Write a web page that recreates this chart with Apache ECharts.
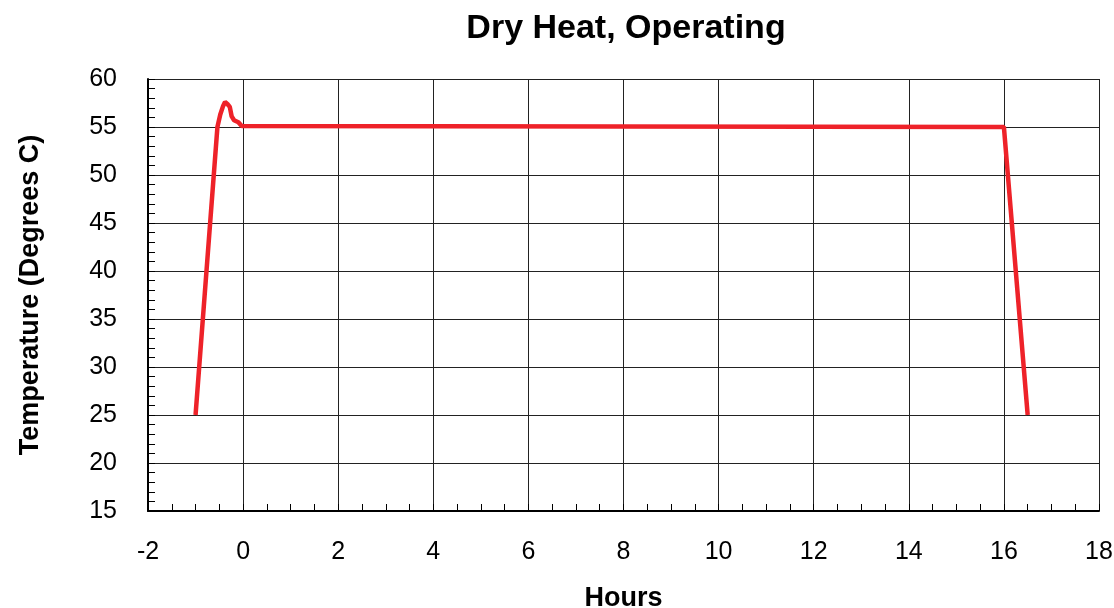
<!DOCTYPE html>
<html>
<head>
<meta charset="utf-8">
<script src="https://cdn.jsdelivr.net/npm/echarts@6/dist/echarts.min.js"></script>
<style>
    html, body { margin: 0; padding: 0; background: #fff; }
    #main { width: 1114px; height: 608px; }
</style>
</head>
<body>
<div id="main"></div>
<script>
// temperature profile
var hours = [-1, -0.54, -0.48, -0.42, -0.38, -0.33, -0.28, -0.24, -0.19, -0.1, -0.03, 0, 16, 16.5];
var temps = [25, 55, 56.3, 57.2, 57.6, 57.4, 57.1, 56.1, 55.7, 55.5, 55.1, 55, 55, 25];

function getPairs(xs, ys) {
    var arr = [];
    for (var i = 0; i < xs.length; i++) {
        arr.push([xs[i], ys[i]]);
    }
    return arr;
}

lineTable('main');

function lineTable(id) {
    var myChart = echarts.init(document.getElementById(id));
    var font = 'Liberation Sans, Arial, sans-serif';

    option = {
        animation: false,
        title: {
            text: 'Dry Heat, Operating',
            left: 621,
            textAlign: 'center',
            top: 7,
            textStyle: { fontFamily: font, fontSize: 34, fontWeight: 'bold', color: '#000' }
        },
        grid: {
            left: 148,
            right: 15,
            top: 79,
            bottom: 97,
            outerBoundsMode: 'none',
            containLabel: false
        },
        xAxis: {
            type: 'value',
            min: -2,
            max: 18,
            interval: 2,
            name: 'Hours',
            nameLocation: 'middle',
            nameGap: 74,
            nameTextStyle: { fontFamily: font, fontSize: 27, fontWeight: 'bold', color: '#000' },
            axisLine: { show: true, onZero: false, lineStyle: { color: '#000', width: 2 } },
            axisTick: { show: true, inside: true, length: 7, lineStyle: { color: '#000' } },
            minorTick: { show: true, splitNumber: 4, length: 7, lineStyle: { color: '#000' } },
            axisLabel: { fontFamily: font, fontSize: 25, color: '#000', margin: 29 },
            splitLine: { show: true, lineStyle: { color: '#222', width: 1 } }
        },
        yAxis: {
            type: 'value',
            min: 15,
            max: 60,
            interval: 5,
            name: 'Temperature (Degrees C)',
            nameLocation: 'middle',
            nameGap: 104,
            nameTextStyle: { fontFamily: font, fontSize: 27, fontWeight: 'bold', color: '#000' },
            axisLine: { show: true, onZero: false, lineStyle: { color: '#000', width: 2 } },
            axisTick: { show: true, inside: true, length: 7, lineStyle: { color: '#000' } },
            minorTick: { show: true, splitNumber: 5, length: 7, lineStyle: { color: '#000' } },
            axisLabel: { fontFamily: font, fontSize: 25, color: '#000', margin: 31 },
            splitLine: { show: true, lineStyle: { color: '#222', width: 1 } }
        },
        series: [
            {
                name: 'Temperature',
                type: 'line',
                data: getPairs(hours, temps),
                showSymbol: false,
                lineStyle: { color: '#ee2229', width: 4.5 },
                itemStyle: { color: '#ee2229' }
            }
        ]
    };

    myChart.setOption(option);
    window.addEventListener('resize', function () {
        myChart.resize();
    });
}
</script>
</body>
</html>
